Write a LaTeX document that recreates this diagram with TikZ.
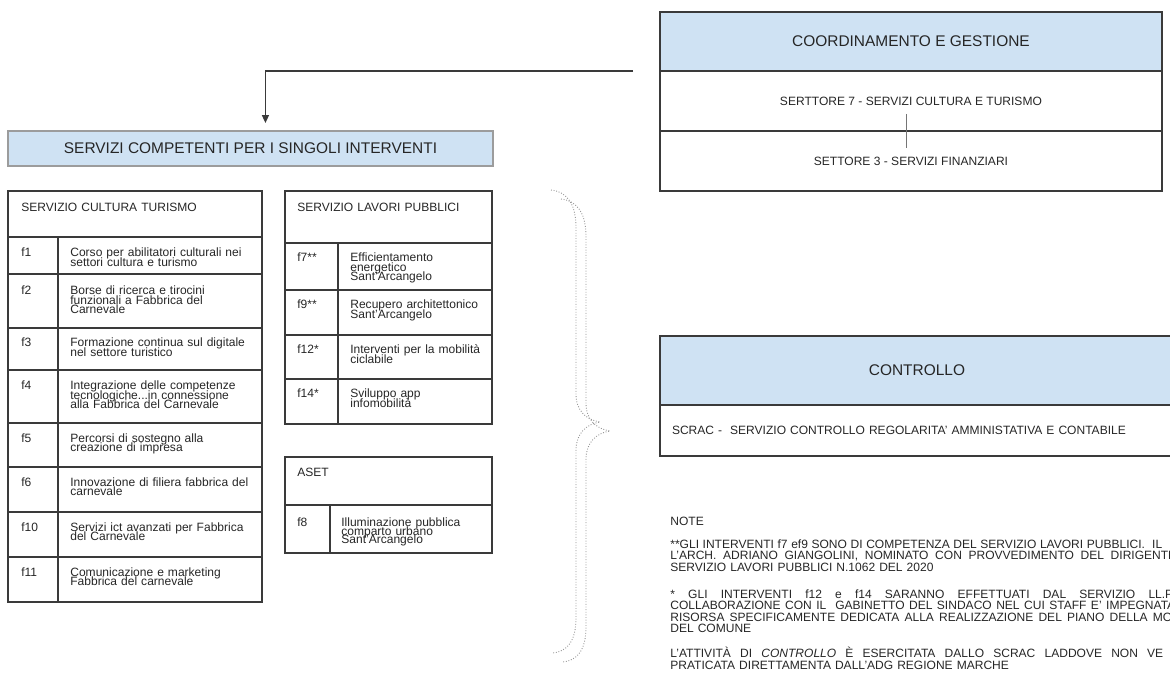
\documentclass[tikz,border=0pt]{standalone}
\usepackage{fontspec}
\setmainfont{Liberation Sans}
\usetikzlibrary{positioning,arrows.meta}

\definecolor{azzurro}{HTML}{CFE2F3}
\definecolor{bordo}{HTML}{3A3A3A}
\definecolor{testo}{HTML}{262626}
\definecolor{puntini}{HTML}{909090}

\newcommand\piccolo{\fontsize{6.85}{5.3}\selectfont\lineskiplimit=-\maxdimen\relax}
\newcommand\stretto{\fontsize{6.85}{4.8}\selectfont\lineskiplimit=-\maxdimen\relax}
\newcommand\note{\fontsize{6.85}{6.6}\selectfont\lineskiplimit=-\maxdimen\relax}
% riga giustificata a larghezza fissa
\newcommand\giusta[2]{\leavevmode\hbox to #1{\spaceskip=0.278em plus 1fil\relax #2}}

\tikzset{
	titolo/.style={rectangle, draw=bordo, fill=azzurro, line width=0.7pt,
		text=testo, font=\fontsize{8.8}{10}\selectfont, inner sep=0pt,
		outer sep=0pt, anchor=north west},
	riga/.style={rectangle, draw=bordo, line width=0.7pt, text=testo,
		font=\piccolo, inner sep=0pt, outer sep=0pt},
	cella/.style={anchor=base west, inner sep=0pt, text=testo,
		text width=3.6cm, align=left, font=\piccolo},
	nota/.style={anchor=base west, inner sep=0pt, text=testo,
		text width=10.5cm, font=\note},
	griglia/.style={draw=bordo, line width=0.7pt},
	freccia/.style={draw=bordo, line width=0.7pt,
		-{Triangle[width=4pt,length=4.5pt]}},
	graffa/.style={draw=puntini, densely dotted, line width=0.5pt}
}

\begin{document}
\begin{tikzpicture}[x=0.02cm, y=-0.02cm]
	\useasboundingbox (0,0) rectangle (1170,675);
	\clip (0,0) rectangle (1170,675);
	
	% coordinamento
	\node[titolo, minimum width=10.04cm, minimum height=1.18cm] (coord) at (660,12) {COORDINAMENTO E GESTIONE};
	\node[riga, below=0pt of coord, minimum width=10.04cm, minimum height=1.2cm] (sett7) {SERTTORE 7 - SERVIZI CULTURA E TURISMO};
	\node[riga, below=0pt of sett7, minimum width=10.04cm, minimum height=1.2cm] (sett3) {SETTORE 3 - SERVIZI FINANZIARI};
	\draw[bordo!70, line width=0.5pt] ([xshift=-0.09cm, yshift=-0.26cm]sett7.center) -- ([xshift=-0.09cm, yshift=0.26cm]sett3.center);
	
	\node[titolo, draw=bordo!50, minimum width=9.7cm, minimum height=0.7cm] (servizi) at (8,131) {SERVIZI COMPETENTI PER I SINGOLI INTERVENTI};
	\coordinate (partenza) at (633,71);
	\draw[freccia] (partenza) -| ([xshift=0.3cm, yshift=0.16cm]servizi.north);
	
	% servizio cultura turismo
	\draw[griglia] (8,191) rectangle (262,602);
	\draw[griglia] (58,237) -- (58,602)
		(8,237) -- (262,237) (8,274) -- (262,274) (8,328) -- (262,328)
		(8,370) -- (262,370) (8,423) -- (262,423) (8,467) -- (262,467)
		(8,512) -- (262,512) (8,557) -- (262,557);
	\node[cella] (cultura) at (21,211.7) {SERVIZIO CULTURA TURISMO};
	\node[cella] (f1) at (21,257) {f1};
	\node[cella] (f1t) at (70,257) {Corso per abilitatori culturali nei\\settori cultura e turismo};
	\node[cella] (f2) at (21,295) {f2};
	\node[cella] (f2t) at (70,295) {Borse di ricerca e tirocini\\funzionali a Fabbrica del\\Carnevale};
	\node[cella] (f3) at (21,347) {f3};
	\node[cella] (f3t) at (70,347) {Formazione continua sul digitale\\nel settore turistico};
	\node[cella] (f4) at (21,390) {f4};
	\node[cella] (f4t) at (70,390) {Integrazione delle competenze\\tecnologiche...in connessione\\alla Fabbrica del Carnevale};
	\node[cella] (f5) at (21,442) {f5};
	\node[cella] (f5t) at (70,442) {Percorsi di sostegno alla\\creazione di impresa};
	\node[cella] (f6) at (21,486.5) {f6};
	\node[cella] (f6t) at (70,486.5) {Innovazione di filiera fabbrica del\\carnevale};
	\node[cella] (f10) at (21,531.5) {f10};
	\node[cella] (f10t) at (70,531.5) {Servizi ict avanzati per Fabbrica\\del Carnevale};
	\node[cella] (f11) at (21,576.5) {f11};
	\node[cella] (f11t) at (70,576.5) {Comunicazione e marketing\\Fabbrica del carnevale};
	
	% servizio lavori pubblici
	\draw[griglia] (285,191) rectangle (492,424);
	\draw[griglia] (338,243) -- (338,424)
		(285,243) -- (492,243) (285,290) -- (492,290)
		(285,335) -- (492,335) (285,379) -- (492,379);
	\node[cella] (lavori) at (297,211.7) {SERVIZIO LAVORI PUBBLICI};
	\node[cella] (f7) at (297,262) {f7**};
	\node[cella] (f7t) at (350,262) {Efficientamento\\energetico\\Sant'Arcangelo};
	\node[cella] (f9) at (297,309) {f9**};
	\node[cella] (f9t) at (350,309) {Recupero architettonico\\Sant'Arcangelo};
	\node[cella] (f12) at (297,354) {f12*};
	\node[cella] (f12t) at (350,354) {Interventi per la mobilità\\ciclabile};
	\node[cella] (f14) at (297,398) {f14*};
	\node[cella] (f14t) at (350,398) {Sviluppo app\\infomobilità};
	
	% aset
	\draw[griglia] (285,457) rectangle (492,553);
	\draw[griglia] (330,505) -- (330,553) (285,505) -- (492,505);
	\node[cella] (aset) at (297,476.7) {ASET};
	\node[cella] (f8) at (297,526.7) {f8};
	\node[cella, font=\stretto] (f8t) at (341,526.7) {Illuminazione pubblica\\comparto urbano\\Sant'Arcangelo};
	
	% graffa
	\draw[graffa] (551,190) .. controls (568,192) and (576,205) .. (576,228) -- (576,395)
		.. controls (576,410) and (586,420) .. (600,422)
		.. controls (586,424) and (576,434) .. (576,450) -- (576,618)
		.. controls (576,640) and (568,652) .. (552,653);
	\draw[graffa, shift={(10,9)}] (551,190) .. controls (568,192) and (576,205) .. (576,228) -- (576,395)
		.. controls (576,410) and (586,420) .. (600,422)
		.. controls (586,424) and (576,434) .. (576,450) -- (576,618)
		.. controls (576,640) and (568,652) .. (552,653);
	
	% controllo
	\node[titolo, minimum width=10.28cm, minimum height=1.38cm] (controllo) at (660,336) {CONTROLLO};
	\node[riga, below=0pt of controllo, minimum width=10.28cm, minimum height=1.02cm, inner xsep=0.24cm, text width=9.8cm, align=left] (scrac) {SCRAC -~ SERVIZIO CONTROLLO REGOLARITA' AMMINISTATIVA E CONTABILE};
	
	% note
	\node[nota] (titnote) at (670,525) {NOTE};
	\node[nota] (nota1) at (670,548.3) {\giusta{9.84cm}{**GLI INTERVENTI f7 ef9 SONO DI COMPETENZA DEL SERVIZIO LAVORI PUBBLICI.\ \ IL}\\
		\giusta{10.12cm}{L'ARCH. ADRIANO GIANGOLINI, NOMINATO CON PROVVEDIMENTO DEL DIRIGENTE}\\
		SERVIZIO LAVORI PUBBLICI N.1062 DEL 2020};
	\node[nota] (nota2) at (670,598) {\giusta{10.06cm}{* GLI INTERVENTI f12 e f14 SARANNO EFFETTUATI DAL SERVIZIO LL.P}\\
		\giusta{10.1cm}{COLLABORAZIONE CON IL\ \ GABINETTO DEL SINDACO NEL CUI STAFF E' IMPEGNATA}\\
		\giusta{10.04cm}{RISORSA SPECIFICAMENTE DEDICATA ALLA REALIZZAZIONE DEL PIANO DELLA MO}\\
		DEL COMUNE};
	\node[nota] (nota3) at (670,657.7) {\giusta{9.86cm}{L'ATTIVITÀ DI \textit{CONTROLLO} È ESERCITATA DALLO SCRAC LADDOVE NON VE}\\
		PRATICATA DIRETTAMENTA DALL'ADG REGIONE MARCHE};
\end{tikzpicture}
\end{document}
